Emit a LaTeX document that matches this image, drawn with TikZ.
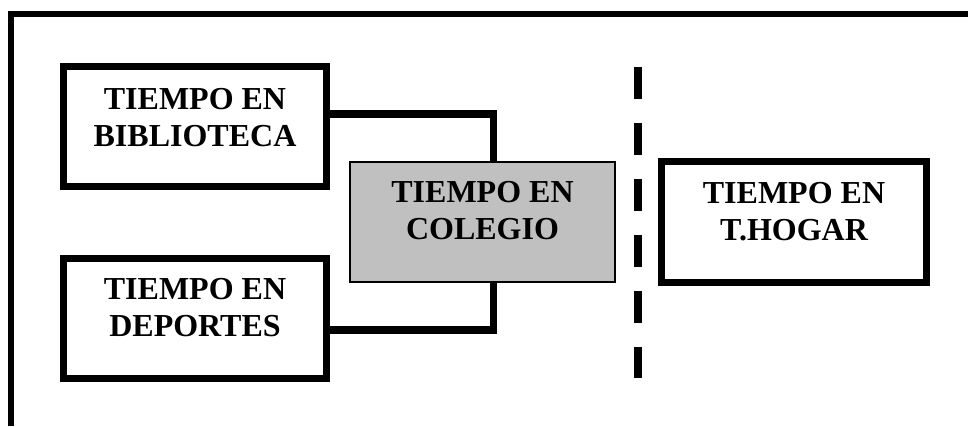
\documentclass[tikz,border=0pt]{standalone}
\usepackage{fontspec}
\setmainfont{Liberation Serif}
\usepackage{xcolor}
\usepackage{tikz}
\definecolor{colgray}{RGB}{192,192,192}

\begin{document}
\begin{tikzpicture}[x=1pt, y=1pt,
		timebox/.style={draw=black, line width=7pt, fill=white, minimum width=263pt, minimum height=120pt, inner sep=0pt},
		timetxt/.style={font=\fontsize{32}{37}\selectfont\bfseries, align=center, inner sep=0pt},
		link/.style={line width=7.5pt}]
			\useasboundingbox (0,0) rectangle (968,426);
			% marco exterior
			\draw[line width=6pt] (11,0) -- (11,412) -- (968,412);
			% cajas
			\node[timebox] (bib) at (195,299.5) {};
			\node[timetxt, yshift=9] (bibtxt) at (bib.center) {TIEMPO EN\\BIBLIOTECA};
			\node[timebox] (dep) at (195,108) {};
			\node[timetxt, yshift=10] (deptxt) at (dep.center) {TIEMPO EN\\DEPORTES};
			\node[timebox, draw=black, line width=1.5pt, fill=colgray, minimum width=265pt] (col) at (482.5,204) {};
			\node[timetxt, yshift=11] (coltxt) at (col.center) {TIEMPO EN\\COLEGIO};
			\node[timebox, minimum width=265pt, minimum height=121pt] (hog) at (794,204) {};
			\node[timetxt, yshift=10] (hogtxt) at (hog.center) {TIEMPO EN\\T.HOGAR};
			% conexiones
			\draw[link] ([yshift=12.5]bib.east) -| ([xshift=11]col.north);
			\draw[link] ([yshift=-12]dep.east) -| ([xshift=11]col.south);
			% separador
			\coordinate (septop) at (638,359);
			\coordinate (sepbot) at (638,48);
			\draw[line width=8pt, dash pattern=on 32pt off 24pt] (septop) -- (sepbot);
		\end{tikzpicture}
\end{document}
